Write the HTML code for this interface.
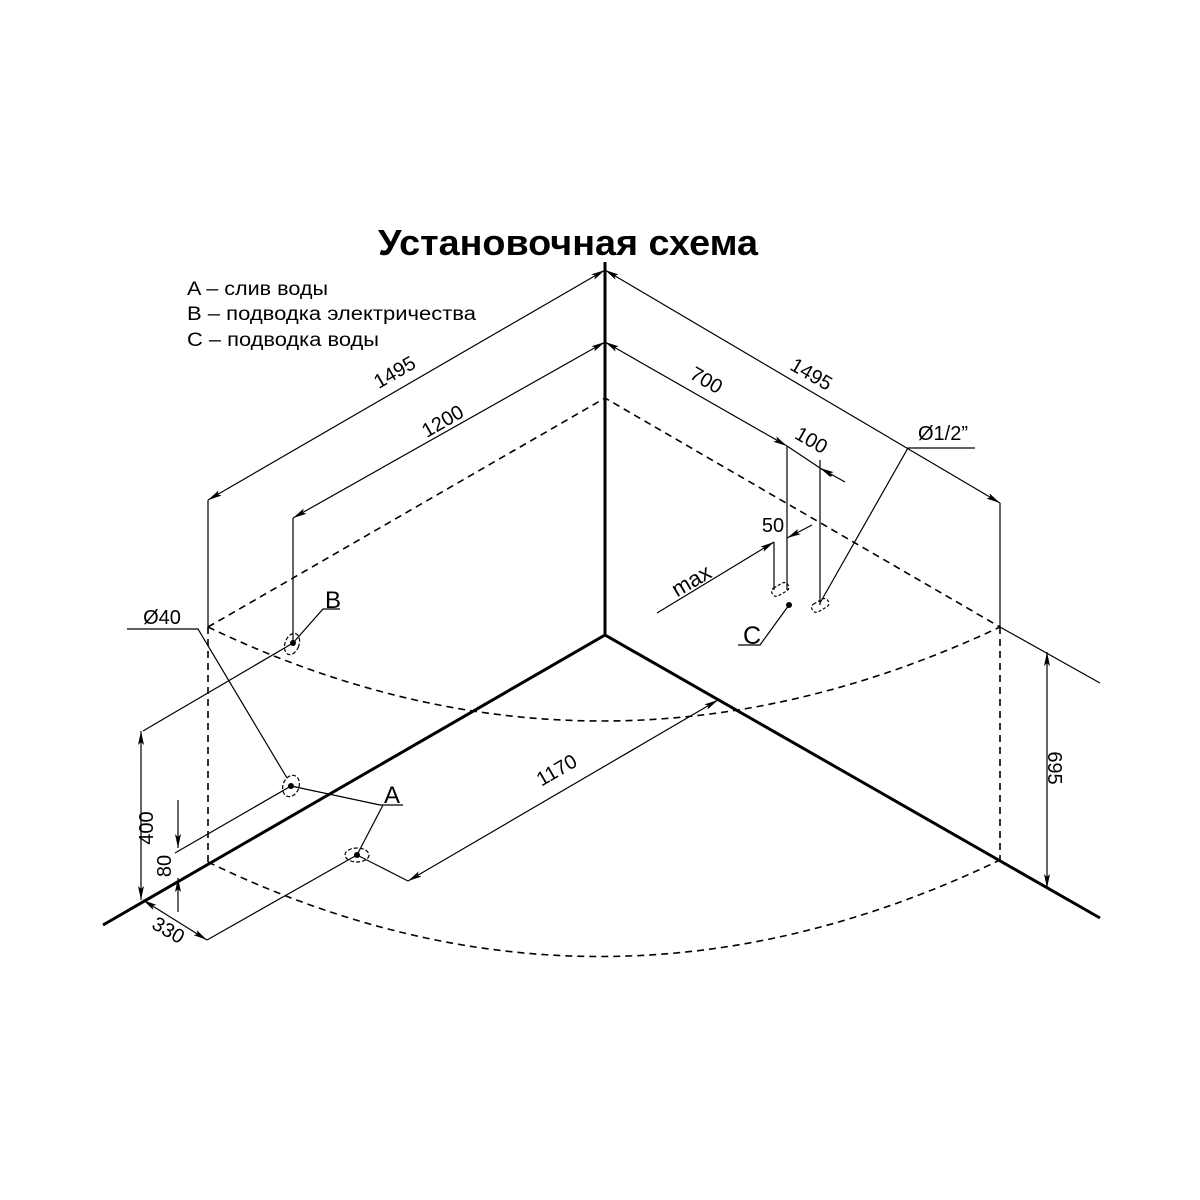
<!DOCTYPE html>
<html><head><meta charset="utf-8"><style>
html,body{margin:0;padding:0;background:#fff}
svg{display:block}
text{font-family:"Liberation Sans",sans-serif;fill:#000}
</style></head><body>
<svg width="1200" height="1200" viewBox="0 0 1200 1200">
<defs>
<marker id="a" viewBox="0 0 14 6" refX="14" refY="3" markerWidth="14" markerHeight="6" markerUnits="userSpaceOnUse" orient="auto-start-reverse"><path d="M0,0 L14,3 L0,6 L3,3 z" fill="#000"/></marker>
</defs>
<text x="378" y="255" font-size="36" font-weight="bold" textLength="380" lengthAdjust="spacingAndGlyphs">Установочная схема</text>
<text x="187" y="295" font-size="19" textLength="141" lengthAdjust="spacingAndGlyphs">A – слив воды</text>
<text x="187" y="320" font-size="19" textLength="289" lengthAdjust="spacingAndGlyphs">B – подводка электричества</text>
<text x="187" y="346" font-size="19" textLength="192" lengthAdjust="spacingAndGlyphs">C – подводка воды</text>

<g stroke="#000" fill="none">
<path d="M605,262 V635 L103,925 M605,635 L1100,918" stroke-width="3"/>
<g stroke-width="1.6" stroke-dasharray="7,5">
<path d="M208,627 L605,398 L1000,627"/>
<path d="M208,627 V862 M1000,627 V860"/>
<path d="M208,627 Q600,815 1000,627"/>
<path d="M208,862 Q600,1052 1000,860"/>
</g>
<g stroke-width="1.2">
<path d="M208,500 L605,270" marker-start="url(#a)" marker-end="url(#a)"/>
<path d="M208,500 V627"/>
<path d="M293,518 L605,342" marker-start="url(#a)" marker-end="url(#a)"/>
<path d="M293,518 V645"/>
<path d="M605,270 L1000,503" marker-start="url(#a)" marker-end="url(#a)"/>
<path d="M1000,503 V627 L1100,683"/>
<path d="M605,342 L787,446" marker-start="url(#a)" marker-end="url(#a)"/>
<path d="M787,446 V590"/>
<path d="M787,446 L832,476"/>
<path d="M845,482 L820,468" marker-end="url(#a)"/>
<path d="M820,460 V605"/>
<path d="M657,613 L774,542" marker-end="url(#a)"/>
<path d="M812,525 L787,538" marker-end="url(#a)"/>
<path d="M774,542 V590"/>
<rect x="771" y="585" width="18" height="9" rx="4" transform="rotate(-30 780 589)" stroke-dasharray="3,2"/>
<rect x="811" y="601" width="18" height="9" rx="4" transform="rotate(-30 820 605)" stroke-dasharray="3,2"/>
<path d="M789,605 L760,645 H738"/>
<path d="M820,603 L908,448 H975"/>
<path d="M1047,652 V888" marker-start="url(#a)" marker-end="url(#a)"/>
<path d="M127,629 H198 L287,778"/>
<ellipse cx="292" cy="644" rx="7" ry="11" transform="rotate(20 292 644)" stroke-dasharray="4,2"/>
<path d="M293,643 L323,609 H340"/>
<path d="M293,643 L143,731"/>
<path d="M141,731 V900" marker-start="url(#a)" marker-end="url(#a)"/>
<ellipse cx="291" cy="786" rx="8" ry="11" transform="rotate(20 291 786)" stroke-dasharray="4,2"/>
<path d="M291,786 L175,853"/>
<path d="M178,800 V848" marker-end="url(#a)"/>
<path d="M178,912 V878" marker-end="url(#a)"/>
<path d="M291,786 L380,805 H403"/>
<ellipse cx="357" cy="855" rx="12" ry="7" stroke-dasharray="4,2"/>
<path d="M357,855 L383,805"/>
<path d="M357,855 L207,940"/>
<path d="M143,900 L207,940" marker-start="url(#a)" marker-end="url(#a)"/>
<path d="M357,855 L408,881"/>
<path d="M408,881 L718,700" marker-start="url(#a)" marker-end="url(#a)"/>
</g>
<g fill="#000" stroke="none">
<circle cx="293" cy="643" r="3"/><circle cx="291" cy="786" r="3"/><circle cx="357" cy="855" r="3"/><circle cx="789" cy="605" r="3"/>
</g>
</g>
<g font-size="20">
<text transform="translate(398,378) rotate(-30)" text-anchor="middle">1495</text>
<text transform="translate(446,427) rotate(-30)" text-anchor="middle">1200</text>
<text transform="translate(808,380) rotate(30)" text-anchor="middle">1495</text>
<text transform="translate(703,386) rotate(30)" text-anchor="middle">700</text>
<text transform="translate(808,446) rotate(30)" text-anchor="middle">100</text>
<text x="773" y="532" text-anchor="middle">50</text>
<text transform="translate(695,587) rotate(-30)" text-anchor="middle" font-size="22">max</text>
<text x="943" y="440" text-anchor="middle">Ø1/2”</text>
<text x="752" y="644" text-anchor="middle" font-size="25">C</text>
<text transform="translate(1048,768) rotate(90)" text-anchor="middle">695</text>
<text x="162" y="624" text-anchor="middle">Ø40</text>
<text x="333" y="608" text-anchor="middle" font-size="24">B</text>
<text x="392" y="803" text-anchor="middle" font-size="24">A</text>
<text transform="translate(153,828) rotate(-90)" text-anchor="middle">400</text>
<text transform="translate(171,866) rotate(-90)" text-anchor="middle">80</text>
<text transform="translate(165,936) rotate(30)" text-anchor="middle">330</text>
<text transform="translate(560,776) rotate(-30)" text-anchor="middle">1170</text>
</g>
</svg>
</body></html>
